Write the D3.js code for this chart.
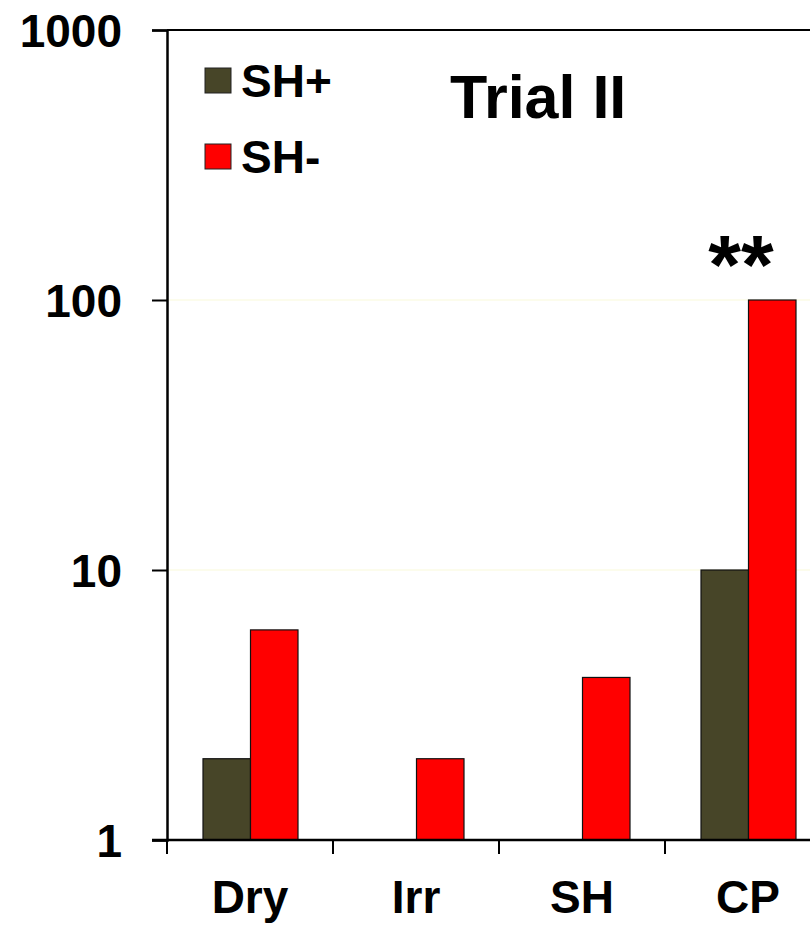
<!DOCTYPE html>
<html>
<head>
<meta charset="utf-8">
<script src="https://cdn.jsdelivr.net/npm/d3@7"></script>
<style>
  body { margin: 0; background: #fff; }
  text { font-family: "Liberation Sans", Arial, sans-serif; font-weight: bold; fill: #000; }
</style>
</head>
<body>
<div id="chart"></div>
<script>
const WIDTH = 810;
const HEIGHT = 926;

const categories = ['Dry', 'Irr', 'SH', 'CP'];
const series = ['SH+', 'SH-'];
const shPlus = [2, 1, 1, 10];
const shMinus = [6, 2, 4, 100];
const yTicks = [1, 10, 100, 1000];
const colors = ['#474528', '#ff0000'];

const plot = { left: 167, top: 30, bottom: 840, band: 166 };

const rows = categories.map((c, i) => ({ key: c, values: [shPlus[i], shMinus[i]] }));

const svg = d3.select('#chart')
  .append('svg')
  .attr('width', WIDTH)
  .attr('height', HEIGHT);

const x0 = d3.scaleBand()
  .domain(categories)
  .range([plot.left, plot.left + plot.band * categories.length]);

const x1 = d3.scaleBand()
  .domain(series)
  .range([36, 131]);

const y = d3.scaleLog()
  .domain([1, 1000])
  .range([plot.bottom, plot.top]);

// faint gridlines
svg.append('g')
  .selectAll('line')
  .data([10, 100])
  .enter()
  .append('line')
  .attr('x1', plot.left)
  .attr('x2', x0.range()[1])
  .attr('y1', d => y(d))
  .attr('y2', d => y(d))
  .attr('stroke', '#fbfbe6')
  .attr('stroke-width', 1.5);

// top frame
svg.append('line')
  .attr('x1', plot.left)
  .attr('x2', x0.range()[1])
  .attr('y1', y(1000))
  .attr('y2', y(1000))
  .attr('stroke', '#000')
  .attr('stroke-width', 2);

const groups = svg.selectAll('g.cat')
  .data(rows)
  .enter()
  .append('g')
  .attr('class', 'cat')
  .attr('transform', d => `translate(${x0(d.key)}, 0)`);

groups.selectAll('rect')
  .data(d => d.values.map((v, i) => ({ s: series[i], v })))
  .enter()
  .filter(d => d.v > 1)
  .append('rect')
  .attr('x', d => x1(d.s))
  .attr('y', d => y(d.v))
  .attr('width', x1.bandwidth())
  .attr('height', d => y(1) - y(d.v))
  .attr('fill', (d, i) => colors[series.indexOf(d.s)])
  .attr('stroke', '#111')
  .attr('stroke-width', 1.2);

// y axis
const yAxis = d3.axisLeft(y)
  .tickValues(yTicks)
  .tickFormat(d3.format('d'))
  .tickSize(15)
  .tickPadding(30);

svg.append('g')
  .attr('transform', `translate(${plot.left}, 0)`)
  .call(yAxis)
  .call(g => g.select('.domain').attr('stroke', '#000').attr('stroke-width', 2.5))
  .call(g => g.selectAll('.tick line').attr('stroke', '#000').attr('stroke-width', 2))
  .call(g => g.selectAll('.tick text')
    .attr('font-size', 46)
    .attr('font-family', '"Liberation Sans", Arial, sans-serif')
    .attr('font-weight', 'bold')
    .attr('dy', '0.36em'));

// x axis
const xAxis = d3.axisBottom(x0)
  .tickSize(0)
  .tickPadding(40);

svg.append('g')
  .attr('transform', `translate(0, ${plot.bottom})`)
  .call(xAxis)
  .call(g => g.select('.domain').remove())
  .call(g => g.selectAll('.tick text')
    .attr('font-size', 46)
    .attr('font-family', '"Liberation Sans", Arial, sans-serif')
    .attr('font-weight', 'bold'));

svg.append('line')
  .attr('x1', plot.left - 15)
  .attr('x2', x0.range()[1])
  .attr('y1', plot.bottom)
  .attr('y2', plot.bottom)
  .attr('stroke', '#000')
  .attr('stroke-width', 2.5);

svg.append('g')
  .selectAll('line')
  .data(categories)
  .enter()
  .append('line')
  .attr('x1', d => x0(d))
  .attr('x2', d => x0(d))
  .attr('y1', plot.bottom)
  .attr('y2', plot.bottom + 14)
  .attr('stroke', '#000')
  .attr('stroke-width', 2);

// legend
const legend = svg.append('g')
  .selectAll('g')
  .data(series)
  .enter()
  .append('g')
  .attr('transform', (d, i) => `translate(205, ${68 + i * 76})`);

legend.append('rect')
  .attr('width', 26)
  .attr('height', 25)
  .attr('fill', (d, i) => colors[i])
  .attr('stroke', '#222')
  .attr('stroke-width', 1);

legend.append('text')
  .attr('x', 36)
  .attr('y', 29)
  .attr('font-size', 46)
  .text(d => d);

// title
svg.append('text')
  .attr('x', 450)
  .attr('y', 118)
  .attr('font-size', 61)
  .text('Trial II');

// significance marker
svg.append('text')
  .attr('x', x0('CP') + x0.bandwidth() / 2 - 7)
  .attr('y', y(100) - 6)
  .attr('text-anchor', 'middle')
  .attr('font-size', 84)
  .text('**');
</script>
</body>
</html>
